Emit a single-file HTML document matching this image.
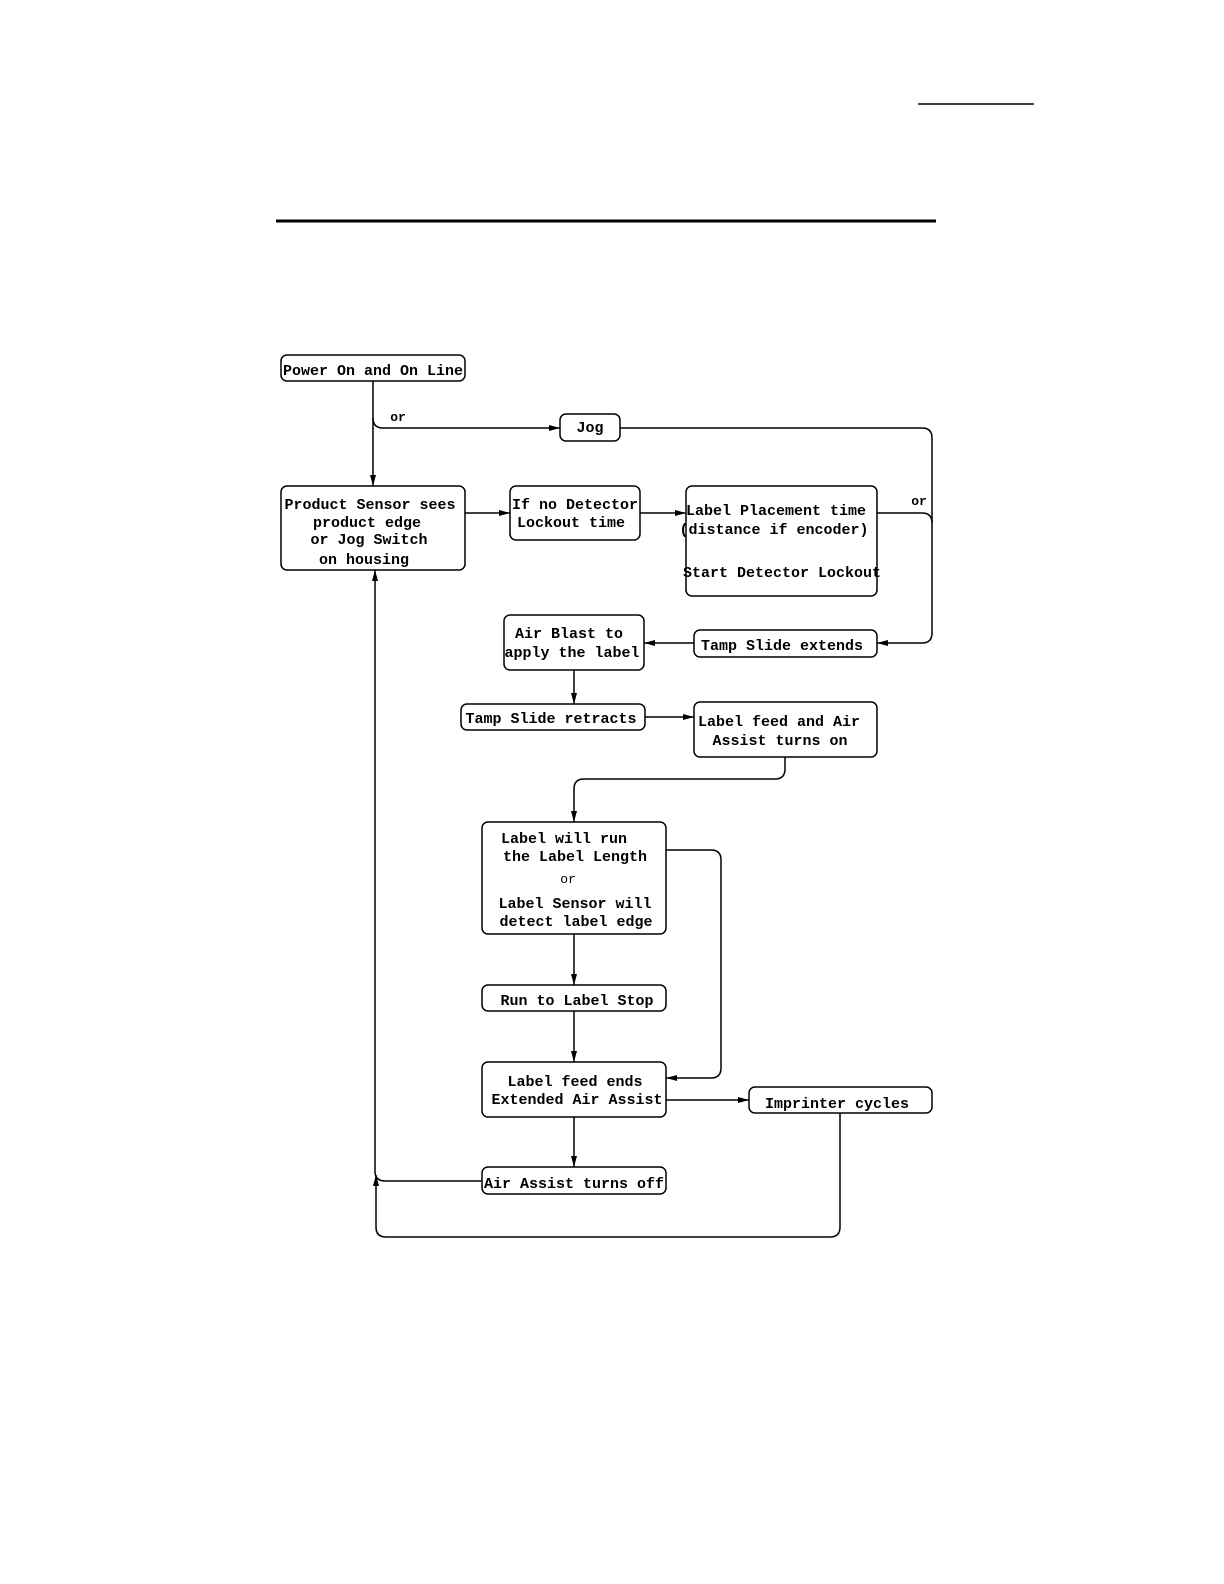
<!DOCTYPE html>
<html><head><meta charset="utf-8"><style>
html,body{margin:0;padding:0;background:#fff;}
svg{display:block;}
text{font-family:"Liberation Mono",monospace;font-size:15px;fill:#000;}
</style></head><body>
<svg width="1224" height="1584" viewBox="0 0 1224 1584" xmlns="http://www.w3.org/2000/svg">
<defs>
<marker id="a" markerWidth="12" markerHeight="10" refX="11" refY="5" orient="auto" markerUnits="userSpaceOnUse">
<path d="M0,2 L11,5 L0,8 Z" fill="#000"/></marker>
</defs>
<line x1="918" y1="104" x2="1034" y2="104" stroke="#000" stroke-width="1.5"/>
<line x1="276" y1="221" x2="936" y2="221" stroke="#000" stroke-width="3"/>
<g fill="none" stroke="#000" stroke-width="1.5">
<rect x="281" y="355" width="184" height="26" rx="6"/>
<rect x="560" y="414" width="60" height="27" rx="6"/>
<rect x="281" y="486" width="184" height="84" rx="6"/>
<rect x="510" y="486" width="130" height="54" rx="6"/>
<rect x="686" y="486" width="191" height="110" rx="6"/>
<rect x="504" y="615" width="140" height="55" rx="6"/>
<rect x="694" y="630" width="183" height="27" rx="6"/>
<rect x="461" y="704" width="184" height="26" rx="6"/>
<rect x="694" y="702" width="183" height="55" rx="6"/>
<rect x="482" y="822" width="184" height="112" rx="6"/>
<rect x="482" y="985" width="184" height="26" rx="6"/>
<rect x="482" y="1062" width="184" height="55" rx="6"/>
<rect x="749" y="1087" width="183" height="26" rx="6"/>
<rect x="482" y="1167" width="184" height="27" rx="6"/>
</g>
<g fill="none" stroke="#000" stroke-width="1.5">
<path d="M373,381 V486" marker-end="url(#a)"/>
<path d="M373,418 Q373,428 383,428 H560" marker-end="url(#a)"/>
<path d="M620,428 H922 Q932,428 932,438 V633 Q932,643 922,643 H877" marker-end="url(#a)"/>
<path d="M877,513 H922 Q932,513 932,523"/>
<path d="M465,513 H510" marker-end="url(#a)"/>
<path d="M640,513 H686" marker-end="url(#a)"/>
<path d="M694,643 H644" marker-end="url(#a)"/>
<path d="M574,670 V704" marker-end="url(#a)"/>
<path d="M645,717 H694" marker-end="url(#a)"/>
<path d="M785,757 V769 Q785,779 775,779 H584 Q574,779 574,789 V822" marker-end="url(#a)"/>
<path d="M666,850 H711 Q721,850 721,860 V1068 Q721,1078 711,1078 H666" marker-end="url(#a)"/>
<path d="M574,934 V985" marker-end="url(#a)"/>
<path d="M574,1011 V1062" marker-end="url(#a)"/>
<path d="M574,1117 V1167" marker-end="url(#a)"/>
<path d="M666,1100 H749" marker-end="url(#a)"/>
<path d="M482,1181 H385 Q375,1181 375,1171 V570" marker-end="url(#a)"/>
<path d="M840,1113 V1227 Q840,1237 830,1237 H386 Q376,1237 376,1227 V1175" marker-end="url(#a)"/>
</g>
<g text-anchor="middle" font-weight="bold">
<text x="373" y="375">Power On and On Line</text>
<text x="590" y="432">Jog</text>
<text x="370" y="509">Product Sensor sees</text>
<text x="367" y="527">product edge</text>
<text x="369" y="544">or Jog Switch</text>
<text x="364" y="564">on housing</text>
<text x="575" y="509">If no Detector</text>
<text x="571" y="527">Lockout time</text>
<text x="776" y="515">Label Placement time</text>
<text x="774" y="534">(distance if encoder)</text>
<text x="782" y="577">Start Detector Lockout</text>
<text x="569" y="638">Air Blast to</text>
<text x="572" y="657">apply the label</text>
<text x="782" y="650">Tamp Slide extends</text>
<text x="551" y="723">Tamp Slide retracts</text>
<text x="779" y="726">Label feed and Air</text>
<text x="780" y="745">Assist turns on</text>
<text x="564" y="843">Label will run</text>
<text x="575" y="861">the Label Length</text>
<text x="568" y="883" font-weight="normal" style="font-size:13px">or</text>
<text x="575" y="908">Label Sensor will</text>
<text x="576" y="926">detect label edge</text>
<text x="577" y="1005">Run to Label Stop</text>
<text x="575" y="1086">Label feed ends</text>
<text x="577" y="1104">Extended Air Assist</text>
<text x="837" y="1108">Imprinter cycles</text>
<text x="574" y="1188">Air Assist turns off</text>
<text x="398" y="421" style="font-size:13px">or</text>
<text x="919" y="505" style="font-size:13px">or</text>
</g>
</svg>
</body></html>
